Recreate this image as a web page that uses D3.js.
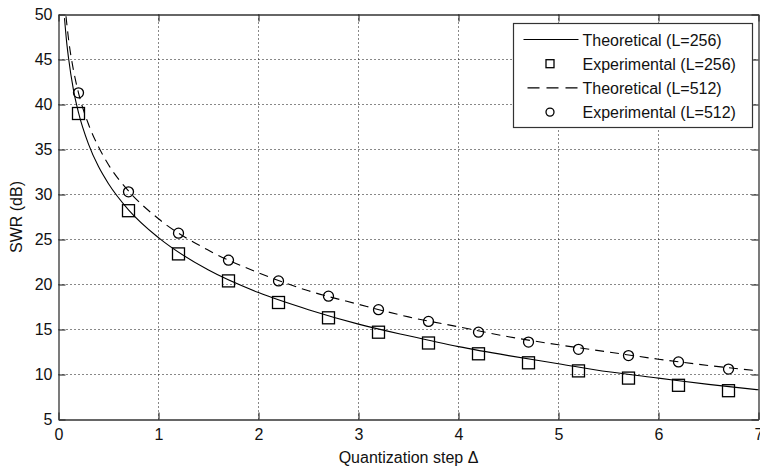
<!DOCTYPE html>
<html>
<head>
<meta charset="utf-8">
<script src="https://cdn.jsdelivr.net/npm/d3@7"></script>
<style>
  body { margin: 0; background: #fff; }
  svg text { font-family: "Liberation Sans", Arial, sans-serif; fill: #111; }
  .grid line { stroke: #111; stroke-dasharray: 1,3; stroke-width: 1; }
</style>
</head>
<body>
<svg id="chart" width="760" height="470"></svg>
<script>
  // theoretical curves
  var theoX256 = [0.06, 0.08, 0.1, 0.15, 0.2, 0.3, 0.4, 0.5, 0.7, 1, 1.5, 2, 2.5, 3, 3.5, 4, 4.5, 5, 5.5, 6, 6.5, 7];
  var theoY256 = [49.6, 47.1, 45.2, 41.6, 39.1, 35.6, 33.1, 31.2, 28.3, 25.2, 21.6, 19.1, 17.2, 15.6, 14.3, 13.1, 12.1, 11.2, 10.3, 9.6, 8.9, 8.3];
  var theoX512 = [0.075, 0.1, 0.15, 0.2, 0.3, 0.4, 0.5, 0.7, 1, 1.5, 2, 2.5, 3, 3.5, 4, 4.5, 5, 5.5, 6, 6.5, 7];
  var theoY512 = [49.8, 47.3, 43.8, 41.3, 37.8, 35.3, 33.3, 30.4, 27.3, 23.8, 21.3, 19.3, 17.8, 16.4, 15.3, 14.2, 13.3, 12.5, 11.7, 11.0, 10.4];

  // experimental points
  var expX = [0.2, 0.7, 1.2, 1.7, 2.2, 2.7, 3.2, 3.7, 4.2, 4.7, 5.2, 5.7, 6.2, 6.7];
  var expY256 = [39.0, 28.2, 23.4, 20.4, 18.0, 16.3, 14.7, 13.5, 12.3, 11.3, 10.4, 9.6, 8.8, 8.2];
  var expY512 = [41.3, 30.3, 25.7, 22.7, 20.4, 18.7, 17.2, 15.9, 14.7, 13.6, 12.8, 12.1, 11.4, 10.6];

  var xTicks = [0, 1, 2, 3, 4, 5, 6, 7];
  var yTicks = [5, 10, 15, 20, 25, 30, 35, 40, 45, 50];
  var legendLabels = ['Theoretical (L=256)', 'Experimental (L=256)', 'Theoretical (L=512)', 'Experimental (L=512)'];

  var svg = d3.select('#chart'),
      margin = {top: 14.5, right: 1.5, bottom: 50.5, left: 58.5},
      width = +svg.attr('width') - margin.left - margin.right,
      height = +svg.attr('height') - margin.top - margin.bottom,
      g = svg.append('g').attr('transform', 'translate(' + margin.left + ',' + margin.top + ')');

  var x = d3.scaleLinear().domain([0, 7]).range([0, width]);
  var y = d3.scaleLinear().domain([5, 50]).range([height, 0]);

  // dotted grid
  g.append('g').attr('class', 'grid')
    .selectAll('line').data(xTicks.slice(1, -1)).enter().append('line')
      .attr('x1', function (d) { return x(d); }).attr('x2', function (d) { return x(d); })
      .attr('y1', 0).attr('y2', height);
  g.append('g').attr('class', 'grid')
    .selectAll('line').data(yTicks.slice(1, -1)).enter().append('line')
      .attr('y1', function (d) { return y(d); }).attr('y2', function (d) { return y(d); })
      .attr('x1', 0).attr('x2', width);

  // axes with inward ticks on all four sides
  function styleAxis(sel) {
    sel.selectAll('path').attr('stroke', '#333').attr('stroke-width', 1.3);
    sel.selectAll('line').attr('stroke', '#333').attr('stroke-width', 1.2);
    sel.selectAll('text').style('font-size', '16px');
  }
  g.append('g').attr('transform', 'translate(0,' + height + ')')
    .call(d3.axisBottom(x).tickValues(xTicks).tickSize(-7).tickSizeOuter(0).tickPadding(9).tickFormat(d3.format('d')))
    .call(styleAxis);
  g.append('g')
    .call(d3.axisLeft(y).tickValues(yTicks).tickSize(-7).tickSizeOuter(0).tickPadding(6).tickFormat(d3.format('d')))
    .call(styleAxis);
  g.append('g')
    .call(d3.axisTop(x).tickValues(xTicks).tickSize(-7).tickSizeOuter(0).tickFormat(''))
    .call(styleAxis);
  g.append('g').attr('transform', 'translate(' + width + ',0)')
    .call(d3.axisRight(y).tickValues(yTicks).tickSize(-7).tickSizeOuter(0).tickFormat(''))
    .call(styleAxis);

  // theoretical lines
  var line = d3.line()
    .x(function (d) { return x(d[0]); })
    .y(function (d) { return y(d[1]); })
    .curve(d3.curveMonotoneX);

  g.append('path')
    .attr('d', line(d3.zip(theoX256, theoY256)))
    .attr('fill', 'none').attr('stroke', '#000').attr('stroke-width', 1.1);
  g.append('path')
    .attr('d', line(d3.zip(theoX512, theoY512)))
    .attr('fill', 'none').attr('stroke', '#000').attr('stroke-width', 1.1)
    .attr('stroke-dasharray', '9,6');

  // experimental markers
  g.selectAll('.sq').data(d3.zip(expX, expY256)).enter().append('rect')
    .attr('class', 'sq')
    .attr('x', function (d) { return x(d[0]) - 6; })
    .attr('y', function (d) { return y(d[1]) - 6; })
    .attr('width', 12).attr('height', 12)
    .attr('fill', 'none').attr('stroke', '#000').attr('stroke-width', 1.3);
  g.selectAll('.ci').data(d3.zip(expX, expY512)).enter().append('circle')
    .attr('class', 'ci')
    .attr('cx', function (d) { return x(d[0]); })
    .attr('cy', function (d) { return y(d[1]); })
    .attr('r', 5)
    .attr('fill', 'none').attr('stroke', '#000').attr('stroke-width', 1.3);

  // axis labels
  svg.append('text')
    .attr('x', margin.left + width / 2).attr('y', 463)
    .style('text-anchor', 'middle').style('font-size', '16px')
    .text('Quantization step \u0394');
  svg.append('text')
    .attr('transform', 'translate(22,' + (margin.top + height / 2) + ') rotate(-90)')
    .style('text-anchor', 'middle').style('font-size', '16px')
    .text('SWR (dB)');

  // legend
  var lg = svg.append('g').attr('transform', 'translate(513.5,23.5)');
  lg.append('rect').attr('width', 239).attr('height', 104)
    .attr('fill', '#fff').attr('stroke', '#333').attr('stroke-width', 1.2);
  var rows = lg.selectAll('.row').data(legendLabels).enter().append('g')
    .attr('transform', function (d, i) { return 'translate(0,' + (16 + i * 24.2) + ')'; });
  rows.append('text').attr('x', 69).attr('y', 6).style('font-size', '16px')
    .text(function (d) { return d; });
  rows.filter(function (d, i) { return i === 0; }).append('line')
    .attr('x1', 10).attr('x2', 65).attr('stroke', '#000').attr('stroke-width', 1.1);
  rows.filter(function (d, i) { return i === 2; }).append('line')
    .attr('x1', 14).attr('x2', 65).attr('stroke', '#000').attr('stroke-width', 1.1).attr('stroke-dasharray', '12,7');
  rows.filter(function (d, i) { return i === 1; }).append('rect')
    .attr('x', 32.5).attr('y', -4).attr('width', 8).attr('height', 8)
    .attr('fill', 'none').attr('stroke', '#000').attr('stroke-width', 1.3);
  rows.filter(function (d, i) { return i === 3; }).append('circle')
    .attr('cx', 36.5).attr('r', 4)
    .attr('fill', 'none').attr('stroke', '#000').attr('stroke-width', 1.3);
</script>
</body>
</html>
